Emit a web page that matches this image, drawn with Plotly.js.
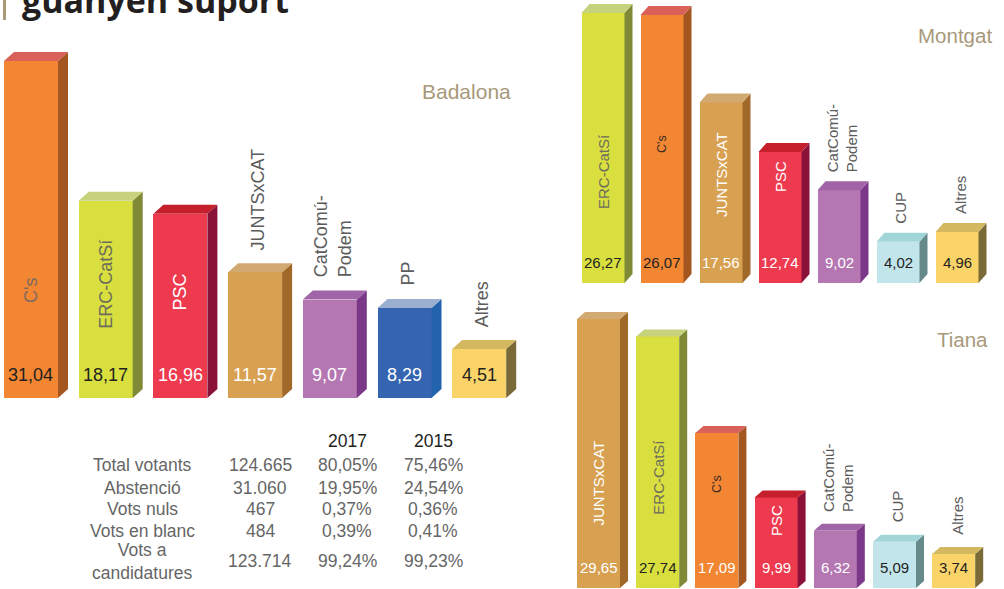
<!DOCTYPE html>
<html><head><meta charset="utf-8">
<script src="https://cdn.plot.ly/plotly-3.0.1.min.js"></script>
<style>html,body{margin:0;padding:0;background:#fff;}#chart{width:1004px;height:589px;}</style>
</head><body><div id="chart"></div>
<script>
// ---------------- DATA ----------------
const badalonaParties = ["C's", "ERC-CatSí", "PSC", "JUNTSxCAT", "CatComú-Podem", "PP", "Altres"];
const badalonaValues  = [31.04, 18.17, 16.96, 11.57, 9.07, 8.29, 4.51];
const montgatParties  = ["ERC-CatSí", "C's", "JUNTSxCAT", "PSC", "CatComú-Podem", "CUP", "Altres"];
const montgatValues   = [26.27, 26.07, 17.56, 12.74, 9.02, 4.02, 4.96];
const tianaParties    = ["JUNTSxCAT", "ERC-CatSí", "C's", "PSC", "CatComú-Podem", "CUP", "Altres"];
const tianaValues     = [29.65, 27.74, 17.09, 9.99, 6.32, 5.09, 3.74];

const tableYears = ["2017", "2015"];
const tableRows  = ["Total votants", "Abstenció", "Vots nuls", "Vots en blanc", "Vots a<br>candidatures"];
const tableVotes = ["124.665", "31.060", "467", "484", "123.714"];
const table2017  = ["80,05%", "19,95%", "0,37%", "0,39%", "99,24%"];
const table2015  = ["75,46%", "24,54%", "0,36%", "0,41%", "99,23%"];

const headline = "guanyen suport";

// ---------------- STYLE ----------------
const W = 1004, H = 589;
const FONT = "Liberation Sans, Arial, sans-serif";
const GRAY = "#5c5c5c";
const partyColors = {
  "C's":           {front: "#F28632", side: "#A3561F", top: "#DA605A"},
  "ERC-CatSí":     {front: "#D9DF3F", side: "#7E8A36", top: "#C6D27C"},
  "PSC":           {front: "#EE3A4F", side: "#8A1238", top: "#C41F2B"},
  "JUNTSxCAT":     {front: "#D8A152", side: "#A0692A", top: "#D3A972"},
  "CatComú-Podem": {front: "#B477B1", side: "#7C3888", top: "#A064A7"},
  "PP":            {front: "#3565B0", side: "#2362AD", top: "#9BB0D0"},
  "Altres":        {front: "#FBD469", side: "#796A38", top: "#D3B860"},
  "CUP":           {front: "#C2E5EC", side: "#66898B", top: "#A2D5D8"}
};
const displayName = n => n === "CatComú-Podem" ? "CatComú-<br>Podem" : n;
const fmt = v => v.toFixed(2).replace('.', ',');

const panels = [
  {title: "Badalona", parties: badalonaParties, values: badalonaValues, xa: 'x', ya: 'y',
   c0: 31, step: 74.7, bottom: 398, ppu: 10.86, barPx: 54, dX: 10, dY: 9,
   xr: [-0.4, 6.8], yr: [0, 35], valSize: 18, labSize: 18, valShift: 23, labGap: 20,
   valDark: ["C's", "ERC-CatSí", "Altres"],
   inside: {"C's": [108, "#7d6b5f", 18], "ERC-CatSí": [114, "#6c6c5c", 18], "PSC": [106, "#ffffff", 18]},
   titleX: 513, titleY: 91, titleSize: 21},
  {title: "Montgat", parties: montgatParties, values: montgatValues, xa: 'x2', ya: 'y2',
   c0: 603, step: 59, bottom: 283, ppu: 10.28, barPx: 43, dX: 8, dY: 9,
   xr: [-0.5, 6.65], yr: [0, 27.5], valSize: 15, labSize: 15, valShift: 21, labGap: 16,
   valDark: ["ERC-CatSí", "C's", "CUP", "Altres"],
   inside: {"ERC-CatSí": [111, "#6c6c5c", 15], "C's": [139, "#3a2a22", 12.5], "JUNTSxCAT": [108, "#ffffff", 15], "PSC": [106, "#ffffff", 15]},
   titleX: 994, titleY: 35, titleSize: 20.5},
  {title: "Tiana", parties: tianaParties, values: tianaValues, xa: 'x3', ya: 'y3',
   c0: 598.5, step: 59.2, bottom: 588, ppu: 9.07, barPx: 43, dX: 8, dY: 7,
   xr: [-0.4, 6.7], yr: [0, 32.5], valSize: 15, labSize: 15, valShift: 21, labGap: 17,
   valDark: ["ERC-CatSí", "CUP", "Altres"],
   inside: {"JUNTSxCAT": [105, "#ffffff", 15], "ERC-CatSí": [111, "#6c6c5c", 15], "C's": [104, "#3a2a22", 12.5], "PSC": [67, "#ffffff", 15]},
   titleX: 990, titleY: 339, titleSize: 20.5}
];

// ---------------- BUILD ----------------
const traces = [], shapes = [], annotations = [];
const layout = {
  width: W, height: H, margin: {l: 0, r: 0, t: 0, b: 0},
  paper_bgcolor: "#fff", plot_bgcolor: "rgba(0,0,0,0)", showlegend: false,
  font: {family: FONT}, bargap: 0
};
const px = x => x / W, py = y => 1 - y / H;

panels.forEach((p, k) => {
  const idx = p.values.map((_, i) => i);
  const axName = k === 0 ? '' : String(k + 1);
  layout['xaxis' + axName] = {
    domain: [px(p.c0 + p.xr[0] * p.step), px(p.c0 + p.xr[1] * p.step)],
    range: p.xr, visible: false, fixedrange: true, anchor: p.ya
  };
  layout['yaxis' + axName] = {
    domain: [py(p.bottom), py(p.bottom - p.yr[1] * p.ppu)],
    range: p.yr, visible: false, fixedrange: true, anchor: p.xa
  };
  const bw = p.barPx / p.step, hw = bw / 2;
  const dx = p.dX / p.step, dy = p.dY / p.ppu;
  traces.push({
    type: 'bar', x: idx, y: p.values, width: bw, xaxis: p.xa, yaxis: p.ya,
    marker: {color: p.parties.map(q => partyColors[q].front), line: {width: 0}},
    hoverinfo: 'skip'
  });
  p.values.forEach((v, i) => {
    const c = partyColors[p.parties[i]];
    const r = i + hw, l = i - hw;
    shapes.push({type: 'path', xref: p.xa, yref: p.ya, layer: 'above',
      path: `M${r},0 L${r + dx},${dy} L${r + dx},${v + dy} L${r},${v} Z`,
      fillcolor: c.side, line: {width: 0}});
    shapes.push({type: 'path', xref: p.xa, yref: p.ya, layer: 'above',
      path: `M${l},${v} L${l + dx},${v + dy} L${r + dx},${v + dy} L${r},${v} Z`,
      fillcolor: c.top, line: {width: 0}});
    annotations.push({xref: p.xa, yref: p.ya, x: i, y: 0, yanchor: 'middle', xanchor: 'center',
      yshift: p.valShift, showarrow: false, text: fmt(v),
      font: {family: FONT, size: p.valSize, color: p.valDark.includes(p.parties[i]) ? "#231f20" : "#ffffff"}});
    const ins = p.inside[p.parties[i]];
    if (ins) {
      annotations.push({xref: p.xa, yref: p.ya, x: i, y: 0, yanchor: 'middle', xanchor: 'center',
        yshift: ins[0], textangle: -90, showarrow: false, text: displayName(p.parties[i]),
        font: {family: FONT, size: ins[2], color: ins[1]}});
    } else {
      annotations.push({xref: p.xa, yref: p.ya, x: i, y: v, yanchor: 'bottom', xanchor: 'center',
        yshift: p.labGap, xshift: 3, textangle: -90, showarrow: false, align: 'left',
        text: displayName(p.parties[i]),
        font: {family: FONT, size: p.labSize, color: GRAY}});
    }
  });
  annotations.push({xref: 'paper', yref: 'paper', x: px(p.titleX), y: py(p.titleY),
    xanchor: 'right', yanchor: 'middle', showarrow: false, text: p.title,
    font: {family: FONT, size: p.titleSize, color: "#A8997A"}});
});

// table
const rowY = [465, 488, 509, 531, 561];
const colX = [142, 260, 347, 433];
tableYears.forEach((t, j) => annotations.push({xref: 'paper', yref: 'paper', x: px(colX[j + 2]), y: py(441),
  xanchor: 'center', yanchor: 'middle', showarrow: false, text: t,
  font: {family: FONT, size: 17.5, color: "#231f20"}}));
tableRows.forEach((r, i) => {
  [r, tableVotes[i], table2017[i], table2015[i]].forEach((t, j) => annotations.push({
    xref: 'paper', yref: 'paper', x: px(colX[j]), y: py(rowY[i]), xanchor: 'center', yanchor: 'middle',
    showarrow: false, text: t, align: 'center',
    font: {family: FONT, size: 17.5, color: "#666666"}}));
});

// headline (cropped at the top edge as in the reference)
annotations.push({xref: 'paper', yref: 'paper', x: px(20), y: py(0), xanchor: 'left', yanchor: 'middle',
  showarrow: false, text: "<b>" + headline + "</b>",
  font: {family: "Open Sans, sans-serif", size: 34, color: "#231f20"}});
shapes.push({type: 'rect', xref: 'paper', yref: 'paper', x0: px(3), x1: px(6), y0: py(20), y1: py(0),
  fillcolor: "#A8997A", line: {width: 0}});

layout.shapes = shapes;
layout.annotations = annotations;
Plotly.newPlot('chart', traces, layout, {staticPlot: true, displayModeBar: false});
</script></body></html>
